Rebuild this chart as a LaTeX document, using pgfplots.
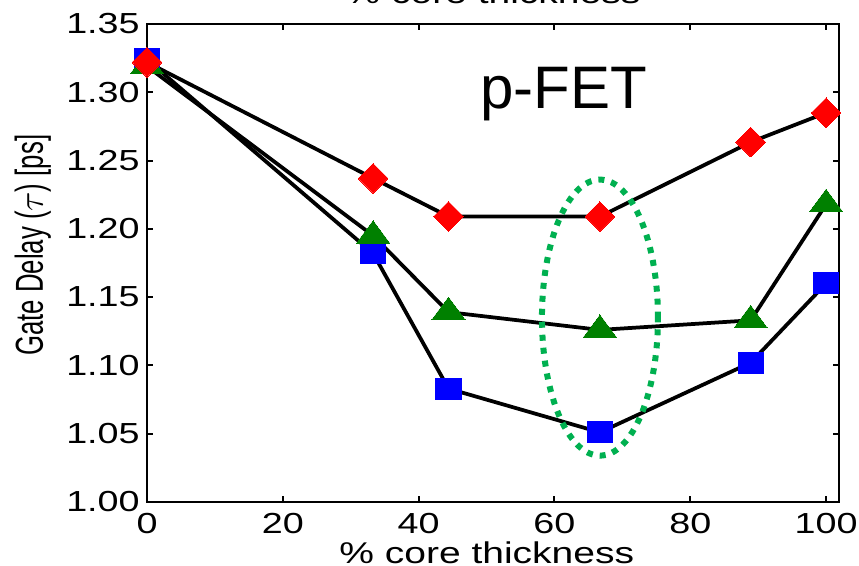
\documentclass[border=0pt]{standalone}
\usepackage{pgfplots}
\pgfplotsset{compat=1.18}
\usepackage{fontspec}
\setmainfont{Liberation Sans}
\newfontfamily\widefont[FakeStretch=1.3]{Liberation Sans}
\newfontfamily\narrowfont[FakeStretch=0.66]{Liberation Sans}
\definecolor{ellgreen}{RGB}{0,176,80}
\definecolor{trigreen}{RGB}{0,128,0}

\begin{document}
\begin{tikzpicture}
\begin{axis}[
    width=276.8pt, height=191.2pt,
    scale only axis,
    xmin=0, xmax=101.9,
    ymin=1, ymax=1.35,
    xtick={0,20,40,60,80,100},
    xticklabels={0,20,40,60,80,100},
    ytick={1.00,1.05,1.10,1.15,1.20,1.25,1.30,1.35},
    yticklabels={1.00,1.05,1.10,1.15,1.20,1.25,1.30,1.35},
    tick label style={font=\widefont\fontsize{11.6}{12}\selectfont},
    yticklabel style={xshift=0.6pt},
    xticklabel style={yshift=-1pt},
    major tick length=2.4pt,
    tick style={black, line width=0.8pt},
    axis line style={line width=1pt},
    clip=false,
]
% blue squares
\addplot[black, line width=1.5pt, mark=square*,
    mark options={fill=blue, draw=blue, mark size=4.2pt, xscale=1.2, line width=0pt}]
    coordinates {(0,1.324)(33.3,1.182)(44.4,1.083)(66.7,1.051)(88.9,1.102)(100,1.160)};
% green triangles
\addplot[black, line width=1.5pt, mark=triangle*,
    mark options={fill=trigreen, draw=trigreen, mark size=6pt, xscale=1.28, line width=0pt}]
    coordinates {(0,1.319)(33.3,1.195)(44.4,1.139)(66.7,1.126)(88.9,1.133)(100,1.218)};
% red diamonds
\addplot[black, line width=1.5pt, mark=square*,
    mark options={fill=red, draw=red, mark size=4.2pt, rotate=45, line width=0pt}]
    coordinates {(0,1.322)(33.3,1.237)(44.4,1.209)(66.7,1.209)(88.9,1.2635)(100,1.285)};

\draw[ellgreen, line width=2.4pt, dash pattern=on 2.4pt off 2.8pt]
    (axis cs:66.7,1.135) ellipse [x radius=23.2pt, y radius=55.2pt];

\node[font=\fontsize{24}{28}\selectfont, anchor=base west, inner sep=0pt]
    at (rel axis cs:0.481,0.824) {p-FET};
\node[font=\widefont\fontsize{12}{14}\selectfont, anchor=base, inner sep=0pt]
    at (rel axis cs:0.491,-0.128) {\% core thickness};
\node[font=\widefont\fontsize{12}{14}\selectfont, anchor=base, inner sep=0pt]
    at (rel axis cs:0.5,1.042) {\% core thickness};
\node[font=\narrowfont\fontsize{15.6}{18}\selectfont, rotate=90, anchor=center, inner sep=0pt]
    at (rel axis cs:-0.165,0.537) {Gate Delay ($\tau$) [ps]};

\coordinate (bl) at (rel axis cs:0,0);
\coordinate (tr) at (rel axis cs:1,1);
\end{axis}
\pgfresetboundingbox
\path[use as bounding box] ([shift={(-58.8pt,-25.6pt)}]bl) rectangle ([shift={(8pt,9.6pt)}]tr);
\end{tikzpicture}
\end{document}
